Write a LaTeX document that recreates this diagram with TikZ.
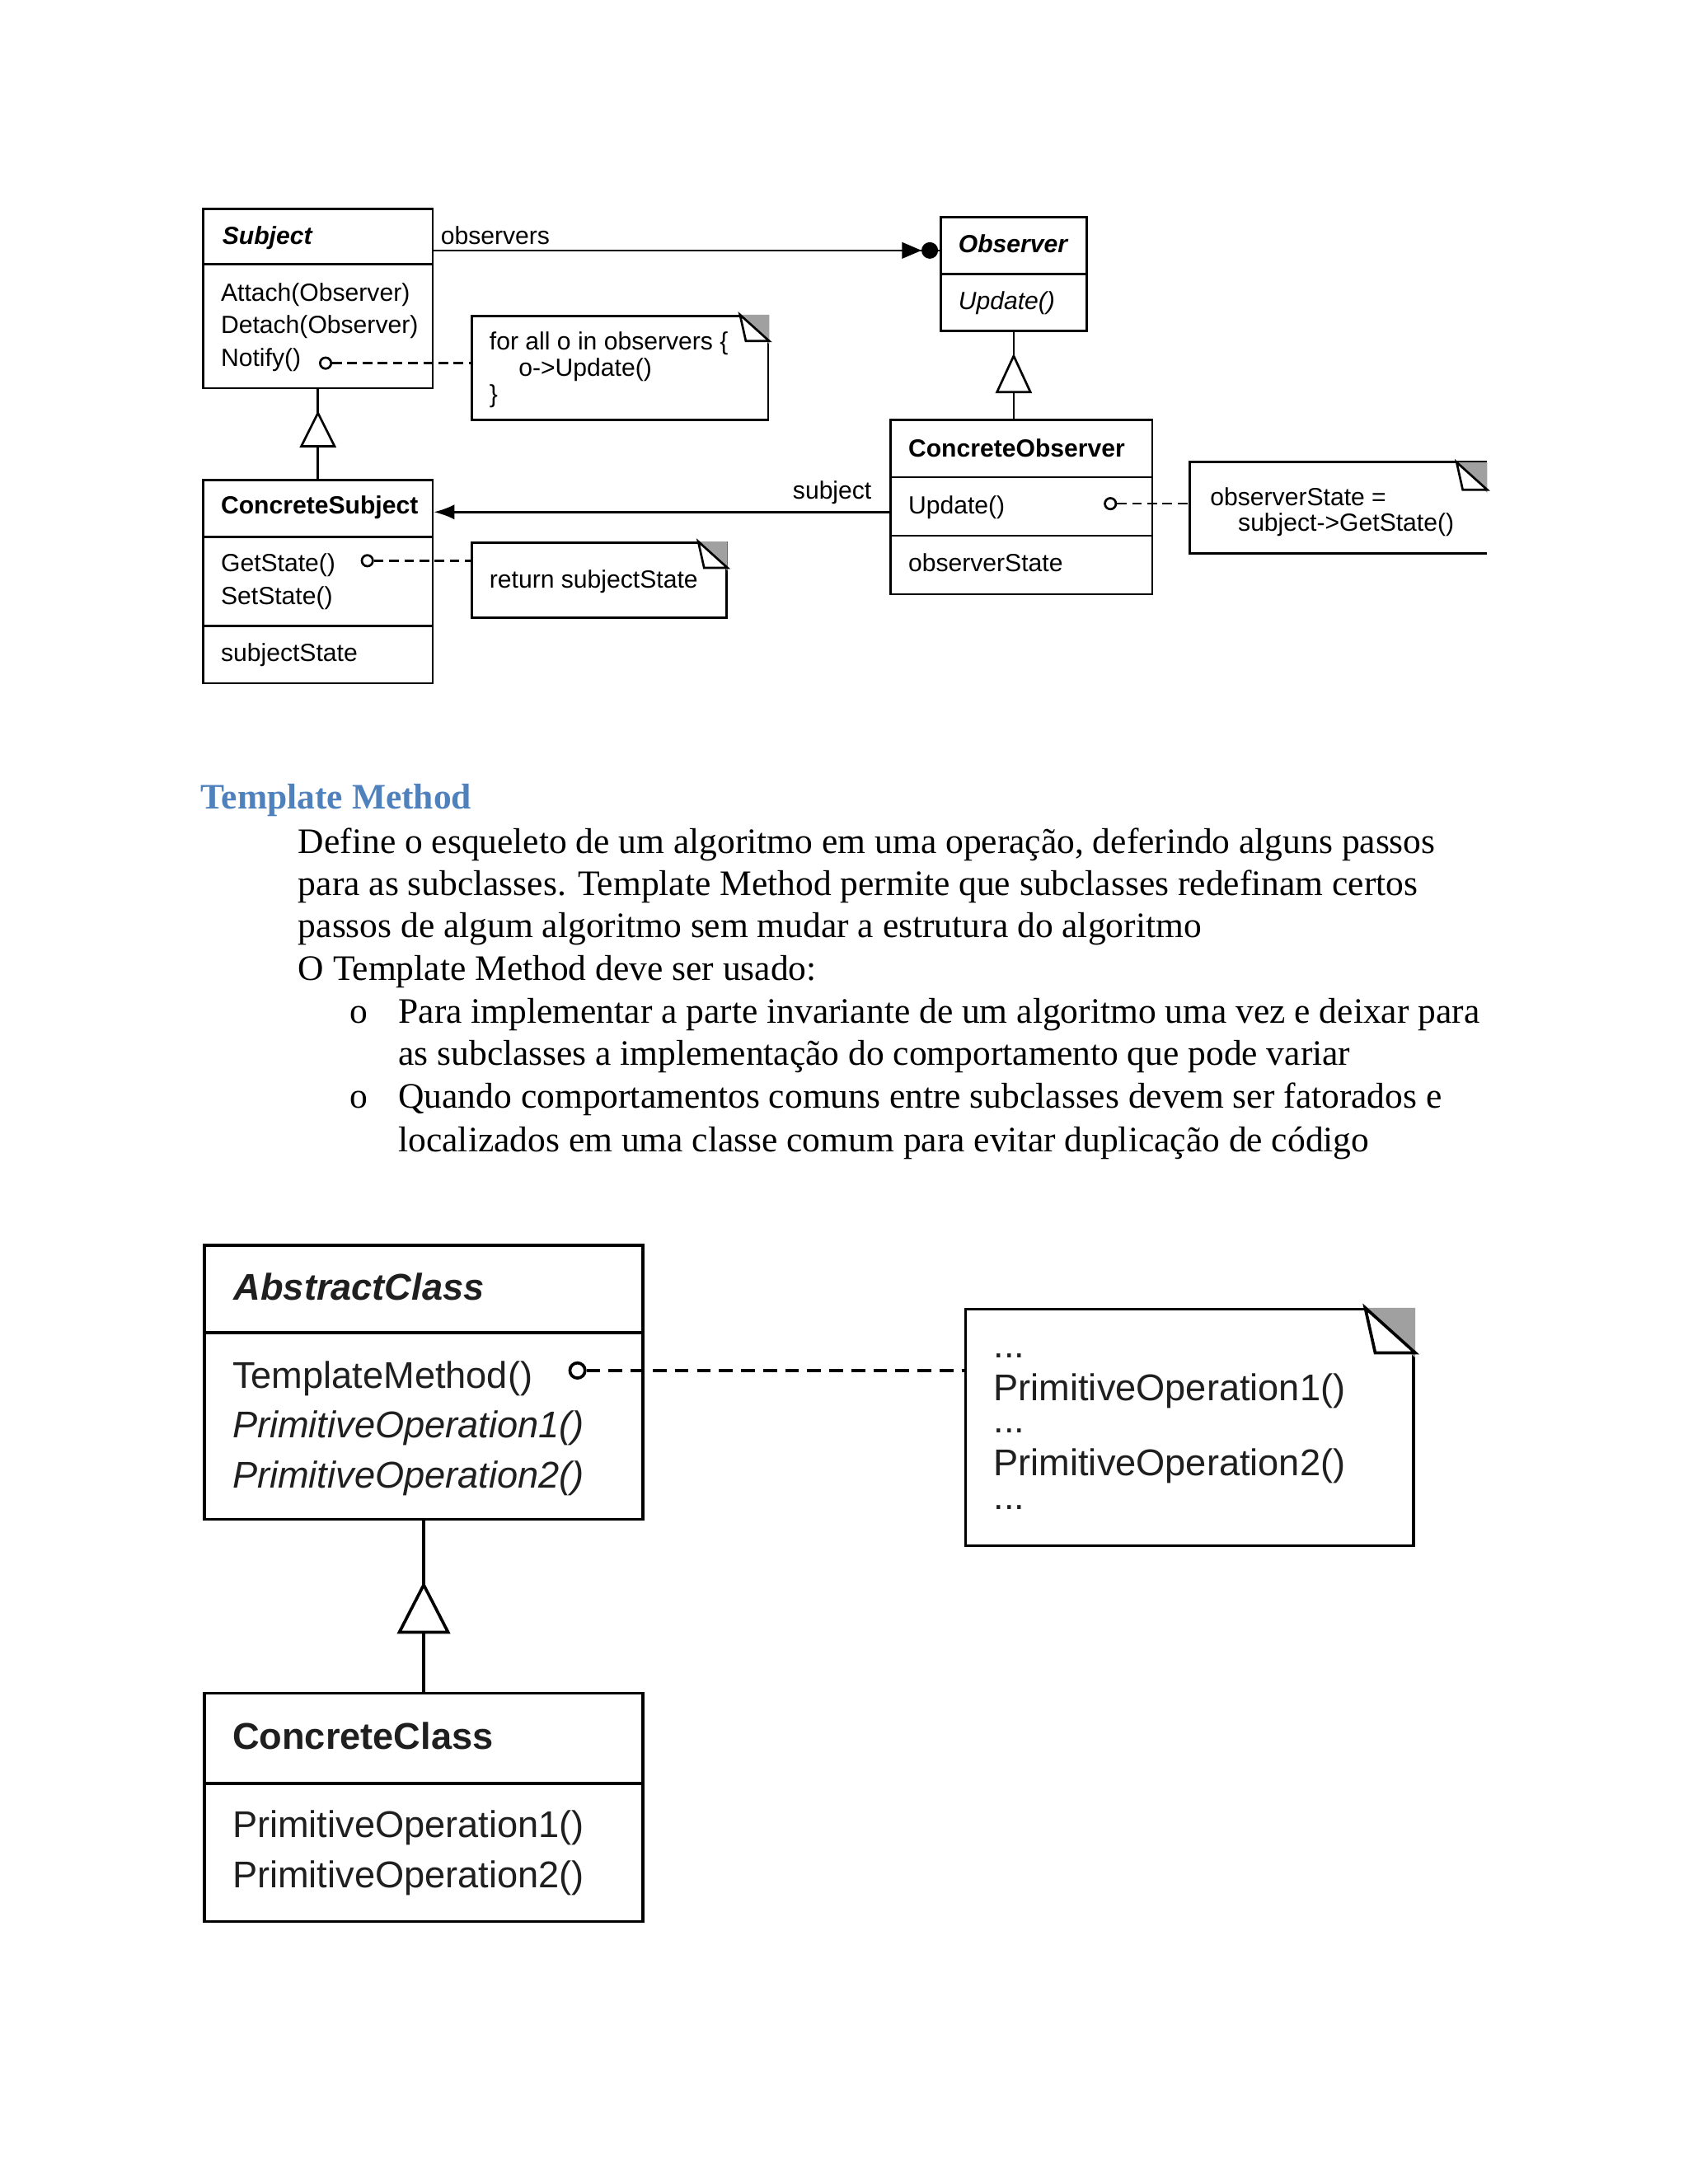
\documentclass[tikz,border=0pt]{standalone}
\usepackage{fontspec}
\setmainfont{Liberation Serif}
\newfontfamily\diagfont{Liberation Sans}
\usetikzlibrary{fit,calc,arrows.meta}
\definecolor{headblue}{RGB}{79,129,189}
\definecolor{eargray}{RGB}{160,160,160}
\newcommand{\dogear}[2]{%
  \fill[eargray] ($(#1.north east)+(-#2,0)$) -- (#1.north east) -- ($(#1.north east)+(0,#2)$) -- cycle;
  \draw[fill=white,line join=miter] ($(#1.north east)+(-#2,0)$) -- ($(#1.north east)+(-0.8*#2,0.9*#2)$) -- ($(#1.north east)+(0,0.9*#2)$) -- cycle;
}
\begin{document}
\begin{tikzpicture}[x=0.50453pt,y=-0.50453pt,
  box/.style={draw, inner sep=0pt},
  area/.style={inner sep=0pt},
  smalltxt/.style={font=\diagfont\fontsize{9}{11}\selectfont, inner sep=0pt, anchor=mid west, yshift=-1pt},
  bigtxt/.style={font=\diagfont\fontsize{13.5}{16}\selectfont, inner sep=0pt, anchor=mid west, text=black!88, yshift=-3pt},
  bigdots/.style={font=\diagfont\fontsize{13.5}{16}\selectfont, inner sep=0pt, anchor=base west, text=black!88},
  bodytxt/.style={font=\fontsize{13}{15}\selectfont, inner sep=0pt, anchor=mid west, yshift=-2pt},
  smallring/.style={circle, draw, fill=white, inner sep=0pt, minimum size=4pt},
  bigring/.style={circle, draw, fill=white, inner sep=0pt, minimum size=5.5pt},
  dashA/.style={dash pattern=on 3.5pt off 2pt},
  dashB/.style={dash pattern=on 5pt off 3pt}
]
\fill[white] (0,0) rectangle (1213,1569.7);
\useasboundingbox (0,0) rectangle (1213,1569.7);

% ================= Observer diagram =================
\begin{scope}[line width=0.8pt]
% Subject
\node[box, fit={(146,150) (311,279)}] (subject) {};
\draw (subject.west |- 0,190) -- (subject.east |- 0,190);
\node[smalltxt] (subjectT) at (159,169) {\bfseries\itshape Subject};
\node[smalltxt] (attach) at (158,210) {Attach(Observer)};
\node[smalltxt] (detach) at (158,233) {Detach(Observer)};
\node[smalltxt] (notify) at (158,257) {Notify()};

% Note 1
\node[box, fit={(339,227) (552,302)}] (note1) {};
\node[smalltxt] (n1a) at (351,245) {for all o in observers \{};
\node[smalltxt] (n1b) at (372,264) {o-{}>Update()};
\node[smalltxt] (n1c) at (351,283) {\}};
\dogear{note1}{21}
\node[smallring] (notifyc) at (234,261) {};
\draw[dashA] (notifyc.east) -- (notifyc -| note1.west);

% Observer
\node[box, fit={(676,156) (781,238)}] (observer) {};
\draw (observer.west |- 0,197) -- (observer.east |- 0,197);
\node[smalltxt] (observerT) at (688,175) {\bfseries\itshape Observer};
\node[smalltxt] (updA) at (688,216) {\itshape Update()};

% observers association
\draw (subject.east |- 0,180) -- (observer.west |- 0,180);
\node[smalltxt] (obslbl) at (316,169) {observers};
\fill ($(observer.west |- 0,180)+(-13,0)$) -- ++(-14,-6) -- ++(0,12) -- cycle;
\fill ($(observer.west |- 0,180)+(-7,0)$) circle[radius=3pt];

% ConcreteObserver
\node[box, fit={(640,302) (828,427)}] (cobs) {};
\draw (cobs.west |- 0,343) -- (cobs.east |- 0,343);
\draw (cobs.west |- 0,385) -- (cobs.east |- 0,385);
\node[smalltxt] (cobsT) at (652,322) {\bfseries ConcreteObserver};
\node[smalltxt] (updB) at (652,363) {Update()};
\node[smalltxt] (obsst) at (652,404) {observerState};

% generalization Observer
\draw (cobs.north -| observer.south) -- (observer.south);
\draw[fill=white,line join=miter] ($(observer.south)+(0,17)$) -- ($(observer.south)+(-12,43)$) -- ($(observer.south)+(12,43)$) -- cycle;

% Note 3 (cropped at right)
\node[area, fit={(856,333) (1068,397)}] (note3) {};
\draw (note3.north east) -- (note3.north west) -- (note3.south west) -- (note3.south east);
\node[smalltxt] (n3a) at (869,357) {observerState =};
\node[smalltxt] (n3b) at (889,375) {subject-{}>GetState()};
\dogear{note3}{22}
\node[smallring] (updc) at (798,362) {};
\draw[dashA] (updc.east) -- (updc -| note3.west);

% ConcreteSubject
\node[box, fit={(146,345) (311,491)}] (csubj) {};
\draw (csubj.west |- 0,386) -- (csubj.east |- 0,386);
\draw (csubj.west |- 0,450) -- (csubj.east |- 0,450);
\node[smalltxt] (csubjT) at (158,363) {\bfseries ConcreteSubject};
\node[smalltxt] (getst) at (158,404) {GetState()};
\node[smalltxt] (setst) at (158,428) {SetState()};
\node[smalltxt] (subjst) at (158,469) {subjectState};

% generalization Subject
\draw (csubj.north) -- (subject.south);
\draw[fill=white,line join=miter] ($(subject.south)+(0,17)$) -- ($(subject.south)+(-12,41)$) -- ($(subject.south)+(12,41)$) -- cycle;

% Note 2
\node[box, fit={(339,390) (522,444)}] (note2) {};
\node[smalltxt] (n2a) at (351,416) {return subjectState};
\dogear{note2}{21}
\node[smallring] (getc) at (264,403) {};
\draw[dashA] (getc.east) -- (getc -| note2.west);

% subject association
\draw[-{Latex[length=7.5pt,width=5.5pt]}] (cobs.west |- 0,368) -- (csubj.east |- 0,368);
\node[smalltxt] (subjlbl) at (569,352) {subject};
\end{scope}

% ================= Text =================
\node[font=\fontsize{13}{15}\selectfont\bfseries, text=headblue, inner sep=0pt, anchor=mid west, yshift=-2.5pt] (heading) at (144,572) {Template Method};
\node[bodytxt] (l1) at (214,605) {Define o esqueleto de um algoritmo em uma operação, deferindo alguns passos};
\node[bodytxt] (l2) at (214,635) {para as subclasses. Template Method permite que subclasses redefinam certos};
\node[bodytxt] (l3) at (214,665) {passos de algum algoritmo sem mudar a estrutura do algoritmo};
\node[bodytxt] (l4) at (214,696) {O Template Method deve ser usado:};
\node[bodytxt] (b1) at (251,727) {o};
\node[bodytxt] (l5) at (286,727) {Para implementar a parte invariante de um algoritmo uma vez e deixar para};
\node[bodytxt] (l6) at (286,757) {as subclasses a implementação do comportamento que pode variar};
\node[bodytxt] (b2) at (251,788) {o};
\node[bodytxt] (l7) at (286,788) {Quando comportamentos comuns entre subclasses devem ser fatorados e};
\node[bodytxt] (l8) at (286,819) {localizados em uma classe comum para evitar duplicação de código};

% ================= Template Method diagram =================
\begin{scope}[line width=1.1pt]
\node[box, fit={(147,895) (462,1092)}] (abs) {};
\draw (abs.west |- 0,958) -- (abs.east |- 0,958);
\node[bigtxt] (absT) at (167,924) {\bfseries\itshape AbstractClass};
\node[bigtxt] (tm) at (166,987) {TemplateMethod()};
\node[bigtxt] (po1) at (166,1023) {\itshape PrimitiveOperation1()};
\node[bigtxt] (po2) at (166,1059) {\itshape PrimitiveOperation2()};

\node[box, fit={(694,941) (1016,1111)}] (note4) {};
\dogear{note4}{36}
\node[bigdots] (d1) at (713,976) {...};
\node[bigtxt] (np1) at (713,996) {PrimitiveOperation1()};
\node[bigdots] (d2) at (713,1030) {...};
\node[bigtxt] (np2) at (713,1050) {PrimitiveOperation2()};
\node[bigdots] (d3) at (713,1085) {...};
\node[bigring] (tmc) at (415,985) {};
\draw[dashB] (tmc.east) -- (tmc -| note4.west);

\node[box, fit={(147,1217) (462,1381)}] (cc) {};
\draw (cc.west |- 0,1282) -- (cc.east |- 0,1282);
\node[bigtxt] (ccT) at (166,1247) {\bfseries ConcreteClass};
\node[bigtxt] (cp1) at (166,1310) {PrimitiveOperation1()};
\node[bigtxt] (cp2) at (166,1346) {PrimitiveOperation2()};

\draw (cc.north) -- (abs.south);
\draw[fill=white,line join=miter] ($(abs.south)+(0,46)$) -- ($(abs.south)+(-17.5,80)$) -- ($(abs.south)+(17.5,80)$) -- cycle;
\end{scope}
\end{tikzpicture}
\end{document}
